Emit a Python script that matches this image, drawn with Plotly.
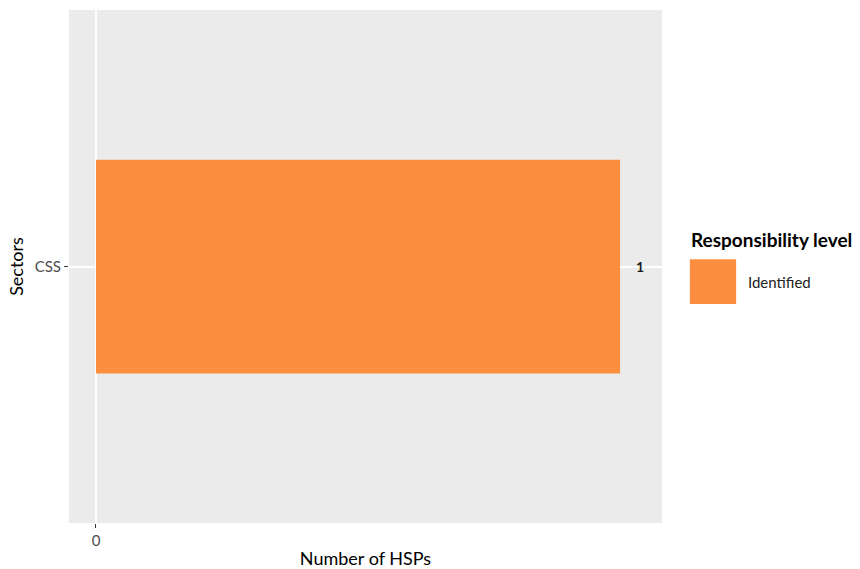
import plotly.graph_objects as go

# data
sectors = ["CSS"]
hsp_counts = [1]
level = "Identified"
bar_color = "#FD8E3F"

fig = go.Figure()
fig.add_trace(go.Bar(
    y=sectors, x=hsp_counts, orientation="h",
    width=0.5, marker=dict(color=bar_color, line=dict(width=0)),
    name=level, showlegend=False,
))

# value labels to the right of the bars
for s, v in zip(sectors, hsp_counts):
    fig.add_annotation(x=v, y=s, text="<b>%d</b>" % v, showarrow=False,
                       xanchor="left", xshift=14, font=dict(size=14, color="#1a1a1a"))

# hand-made legend like ggplot's
fig.add_annotation(xref="paper", yref="paper", x=1.045, y=0.552, text="<b>Responsibility level</b>",
                   showarrow=False, xanchor="left", yanchor="middle",
                   font=dict(size=19, color="#000000"))
fig.add_shape(type="rect", xref="paper", yref="paper", x0=1.047, x1=1.125, y0=0.427, y1=0.514,
              fillcolor=bar_color, line=dict(width=0))
fig.add_annotation(xref="paper", yref="paper", x=1.142, y=0.470, text=level,
                   showarrow=False, xanchor="left", yanchor="middle",
                   font=dict(size=15, color="#222222"))

fig.update_layout(
    width=860, height=569,
    margin=dict(l=69, r=198, t=10, b=46),
    paper_bgcolor="white", plot_bgcolor="#EBEBEB",
    font=dict(family="Lato, Noto Sans, sans-serif", size=15, color="#333333"),
    showlegend=False,
)
fig.update_xaxes(range=[-0.0515, 1.08], tickvals=[0], ticktext=["0"], automargin=False,
                 showgrid=True, gridcolor="white", gridwidth=1.5, zeroline=False,
                 ticks="outside", ticklen=4, tickcolor="#333333",
                 tickfont=dict(size=15, color="#4d4d4d"),
                 title=dict(text="Number of HSPs", font=dict(size=18, color="#000000"), standoff=4))
fig.update_yaxes(range=[-0.6, 0.6], showgrid=True, gridcolor="white", gridwidth=1.5, automargin=False,
                 ticks="outside", ticklen=4, tickcolor="#333333",
                 tickfont=dict(size=15, color="#4d4d4d"),
                 title=dict(text="Sectors", font=dict(size=18, color="#000000"), standoff=6))

fig.write_html("out.html", config={"displayModeBar": False},
               post_script="document.body.style.margin='0px';")
